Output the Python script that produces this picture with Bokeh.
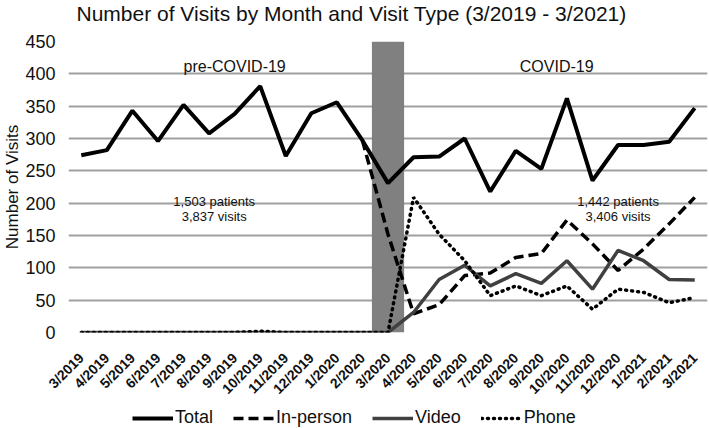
import math
from bokeh.plotting import figure
from bokeh.layouts import column
from bokeh.models import FixedTicker, Legend, LegendItem, Label, Range1d, ColumnDataSource
from bokeh.embed import file_html
from bokeh.resources import INLINE

months = ["3/2019", "4/2019", "5/2019", "6/2019", "7/2019", "8/2019", "9/2019",
          "10/2019", "11/2019", "12/2019", "1/2020", "2/2020", "3/2020", "4/2020",
          "5/2020", "6/2020", "7/2020", "8/2020", "9/2020", "10/2020", "11/2020",
          "12/2020", "1/2021", "2/2021", "3/2021"]
nan = float("nan")
total = [274, 282, 343, 296, 352, 308, 338, 381, 273, 339, 356, 297, 231,
         271, 272, 300, 218, 281, 253, 362, 235, 290, 290, 295, 347]
in_person = [nan, nan, nan, nan, nan, nan, nan, nan, nan, nan, nan, 297, 152,
             29, 43, 88, 92, 116, 122, 174, 137, 96, 129, 168, 209]
video = [0, 0, 0, 0, 0, 0, 0, 0, 0, 0, 0, 0, 0,
         31, 82, 104, 72, 91, 76, 111, 67, 127, 111, 82, 81]
phone = [0, 0, 0, 0, 0, 0, 0, 2, 0, 0, 0, 0, 0,
         209, 152, 111, 57, 72, 57, 72, 36, 67, 62, 46, 54]

shade_month = "3/2020"
shade_top = 450

y_ticks = [0, 50, 100, 150, 200, 250, 300, 350, 400, 450]

TITLE = "Number of Visits by Month and Visit Type (3/2019 - 3/2021)"
FONT = "Liberation Sans"
TXT = "#111111"
W = 709
LEFT = 67    # left border shared by all stacked plots (frames are aligned)
RIGHT = 2
FW = W - LEFT - RIGHT

xs = list(range(len(months)))
src = ColumnDataSource(dict(x=xs, total=total, in_person=in_person, video=video, phone=phone))

# ---- title strip ----
TH = 26
tt = figure(width=W, height=TH, output_backend="svg", toolbar_location=None,
            x_axis_location=None, y_axis_location=None,
            min_border_left=LEFT, min_border_right=RIGHT, min_border_top=0, min_border_bottom=0,
            x_range=Range1d(0, FW), y_range=Range1d(0, TH))
tt.grid.visible = False
tt.outline_line_color = None
tt.add_layout(Label(x=8, y=TH - 13, text=TITLE, text_font=FONT, text_font_size="21px",
                    text_align="left", text_baseline="middle", text_color=TXT))

# ---- main chart ----
p = figure(width=W, height=380, output_backend="svg", toolbar_location=None,
           x_range=Range1d(-0.5, len(months) - 0.5), y_range=Range1d(0, 450),
           min_border_left=LEFT, min_border_right=RIGHT, min_border_top=15, min_border_bottom=74)

p.outline_line_color = None
p.background_fill_color = "white"
p.border_fill_color = "white"

# shaded lockdown month
p.vbar(x=[months.index(shade_month)], top=[shade_top], width=1.26, bottom=0,
       fill_color="#808080", line_color=None)

line_styles = dict(
    total=dict(line_color="black", line_width=4),
    in_person=dict(line_color="black", line_width=3.5, line_dash="10 5"),
    video=dict(line_color="#404040", line_width=3.5),
    phone=dict(line_color="black", line_width=3.5, line_dash="1 5", line_cap="round"),
)
p.line("x", "total", source=src, **line_styles["total"])
p.line("x", "in_person", source=src, **line_styles["in_person"])
p.line("x", "video", source=src, **line_styles["video"])
p.line("x", "phone", source=src, **line_styles["phone"])

# axes
p.xaxis.ticker = FixedTicker(ticks=xs)
p.xaxis.major_label_overrides = {i: m for i, m in enumerate(months)}
p.xaxis.major_label_orientation = math.pi / 4
p.xaxis.major_label_text_font = FONT
p.xaxis.major_label_text_font_size = "14px"
p.xaxis.major_label_text_font_style = "bold"
p.xaxis.major_label_text_color = TXT
p.xaxis.major_label_standoff = 17
p.xaxis.axis_line_color = None
p.xaxis.major_tick_line_color = None
p.xaxis.minor_tick_line_color = None

p.yaxis.ticker = FixedTicker(ticks=y_ticks)
p.yaxis.axis_label = "Number of Visits"
p.yaxis.axis_label_text_font = FONT
p.yaxis.axis_label_text_font_size = "17px"
p.yaxis.axis_label_text_font_style = "normal"
p.yaxis.axis_label_text_color = TXT
p.yaxis.axis_label_standoff = 0
p.yaxis.major_label_text_font = FONT
p.yaxis.major_label_text_font_size = "18px"
p.yaxis.major_label_text_color = TXT
p.yaxis.major_label_standoff = 13
p.yaxis.axis_line_color = None
p.yaxis.major_tick_line_color = None
p.yaxis.minor_tick_line_color = None
p.yaxis.major_tick_out = 0
p.yaxis.major_tick_in = 0
p.yaxis.minor_tick_out = 0
p.yaxis.minor_tick_in = 0

p.xgrid.grid_line_color = None
p.ygrid.grid_line_color = "#a0a0a0"
p.ygrid.grid_line_width = 2

# annotations
ann = [
    ("pre-COVID-19", 6.0, 412, "16px"),
    ("COVID-19", 18.6, 412, "16px"),
    ("1,503 patients", 5.2, 202, "13px"),
    ("3,837 visits", 5.2, 179, "13px"),
    ("1,442 patients", 21.0, 202, "13px"),
    ("3,406 visits", 21.0, 179, "13px"),
]
for t, ax, ay, fs in ann:
    p.add_layout(Label(x=ax, y=ay, text=t, text_font=FONT, text_font_size=fs,
                       text_align="center", text_baseline="middle", text_color=TXT))

# ---- legend strip ----
LH = 22
lg = figure(width=W, height=LH, output_backend="svg", toolbar_location=None,
            x_axis_location=None, y_axis_location=None,
            min_border_left=LEFT, min_border_right=RIGHT, min_border_top=0, min_border_bottom=0,
            x_range=Range1d(0, 1), y_range=Range1d(0, 1))
lg.grid.visible = False
lg.outline_line_color = None
lg.background_fill_color = "white"
lg.border_fill_color = "white"
hidden = ColumnDataSource(dict(x=[nan], y=[nan]))
items = []
for name, key in [("Total", "total"), ("In-person", "in_person"), ("Video", "video"), ("Phone", "phone")]:
    r = lg.line("x", "y", source=hidden, **line_styles[key])
    items.append(LegendItem(label=name, renderers=[r]))
legend = Legend(items=items, orientation="horizontal", location=(131 - LEFT, 0))
legend.label_text_font = FONT
legend.label_text_font_size = "18px"
legend.label_text_color = TXT
legend.glyph_width = 41
legend.glyph_height = 20
legend.spacing = 20
legend.label_standoff = 2
legend.border_line_color = None
legend.background_fill_alpha = 0
legend.padding = 1
legend.margin = 0
lg.add_layout(legend)

layout = column(tt, p, lg, spacing=0)
open("out.html", "w").write(file_html(layout, INLINE))
